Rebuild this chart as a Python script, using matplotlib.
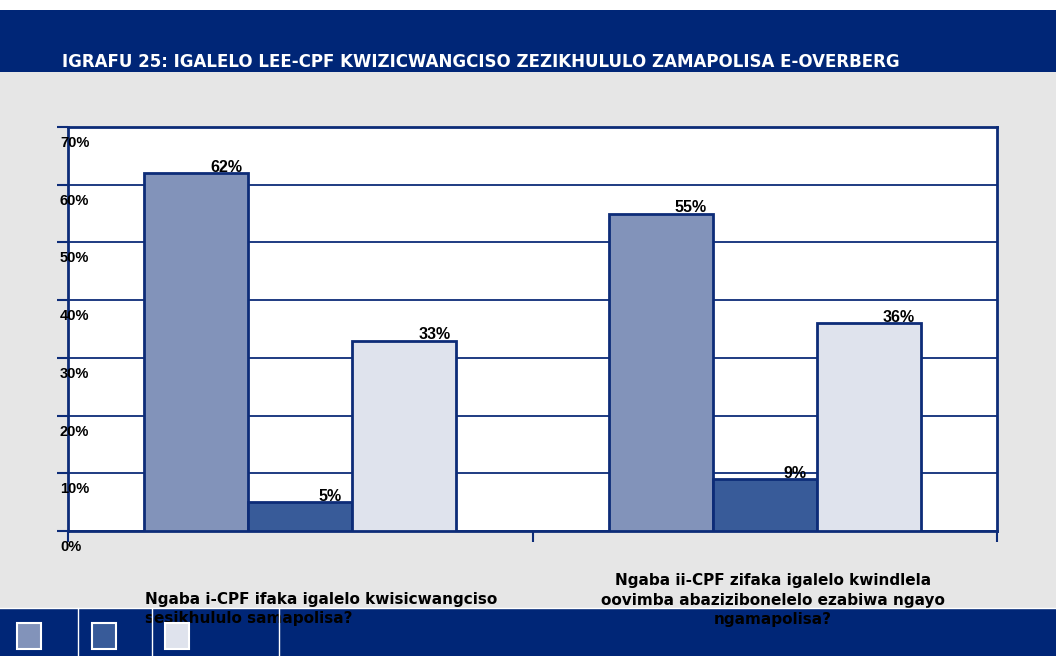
import matplotlib
matplotlib.use("Agg")
import matplotlib.pyplot as plt
from matplotlib.patches import Rectangle
from matplotlib.transforms import ScaledTranslation
import numpy as np

# chart data
title = "IGRAFU 25: IGALELO LEE-CPF KWIZICWANGCISO ZEZIKHULULO ZAMAPOLISA E-OVERBERG"
categories = [
    "Ngaba i-CPF ifaka igalelo kwisicwangciso\nsesikhululo samapolisa?",
    "Ngaba ii-CPF zifaka igalelo kwindlela\noovimba abazizibonelelo ezabiwa ngayo\nngamapolisa?",
]
series_a = [62, 55]
series_b = [5, 9]
series_c = [33, 36]
yticks = [0, 10, 20, 30, 40, 50, 60, 70]
ytick_labels = ["0%", "10%", "20%", "30%", "40%", "50%", "60%", "70%"]

navy = "#002677"
edge = "#0D2C78"
colors = ["#8293BA", "#385B99", "#DFE3ED"]

fig = plt.figure(figsize=(10.56, 6.56), dpi=100)
fig.patch.set_facecolor("#E6E6E6")

W, H = 1056.0, 656.0
# header and footer bands
fig.add_artist(Rectangle((0, 1 - 10 / H), 1, 10 / H, transform=fig.transFigure,
                         facecolor="white", edgecolor="none", zorder=0))
fig.add_artist(Rectangle((0, 1 - 72 / H), 1, 62 / H, transform=fig.transFigure,
                         facecolor=navy, edgecolor="none", zorder=0))
fig.add_artist(Rectangle((0, 0), 1, 48 / H, transform=fig.transFigure,
                         facecolor=navy, edgecolor="none", zorder=0))
fig.add_artist(plt.Line2D([0, 1], [48 / H, 48 / H], transform=fig.transFigure,
                          color="white", lw=1, zorder=1))
for xp in [78, 152, 279]:
    fig.add_artist(plt.Line2D([xp / W, xp / W], [0, 48 / H], transform=fig.transFigure,
                              color="white", lw=1, zorder=1))
# legend swatches (no labels in the original)
for xp, c in zip([17, 92, 165], colors):
    fig.add_artist(Rectangle((xp / W, 7 / H), 24 / W, 26 / H, transform=fig.transFigure,
                             facecolor=c, edgecolor="white", lw=1.5, zorder=2))

fig.text(62 / W, 1 - 62 / H, title, color="white", fontsize=12, fontweight="bold",
         family="DejaVu Sans", va="center", ha="left")

ax = fig.add_axes([68 / W, 1 - 531 / H, (997 - 68) / W, (531 - 127) / H])
ax.set_facecolor("white")

x = np.arange(len(categories))
w = 0.224
for i, (vals, c) in enumerate(zip([series_a, series_b, series_c], colors)):
    xs = x + (i - 1) * w
    ax.bar(xs, vals, width=w, color=c, edgecolor=edge, lw=2, zorder=3)
    for xv, v in zip(xs, vals):
        ax.text(xv + 0.065, v + 1.0, f"{v}%", ha="center", va="center",
                fontsize=11.5, fontweight="bold", family="Liberation Sans", zorder=4)

ax.set_xlim(-0.5, 1.5)
ax.set_ylim(0, 70)
ax.set_yticks(yticks)
ax.set_yticklabels([])
ax.set_xticks([-0.5, 0.5, 1.5])
ax.set_xticklabels([])
ax.tick_params(axis="both", direction="out", length=8, width=1.5, color=edge)
ax.yaxis.grid(True, color=edge, lw=1.3, zorder=0)
ax.set_axisbelow(True)
for s in ax.spines.values():
    s.set_color(edge)
    s.set_linewidth(2)

# y labels sit slightly below their gridlines, overlapping the axis
off = ScaledTranslation(-8 / 100, -16 / 100, fig.dpi_scale_trans)
for v, lab in zip(yticks, ytick_labels):
    ax.text(0, v, lab, transform=ax.get_yaxis_transform() + off, ha="left", va="center",
            fontsize=10.5, fontweight="bold", family="Liberation Sans", clip_on=False)

# category labels
ax.text(145 / W, 1 - 609 / H, categories[0], transform=fig.transFigure, ha="left",
        va="center", multialignment="left", fontsize=11, fontweight="bold",
        linespacing=1.35, zorder=5)
ax.text(773 / W, 1 - 600 / H, categories[1], transform=fig.transFigure, ha="center",
        va="center", multialignment="center", fontsize=11, fontweight="bold",
        linespacing=1.35, zorder=5)

fig.savefig("out.png", dpi=100, facecolor=fig.get_facecolor())
